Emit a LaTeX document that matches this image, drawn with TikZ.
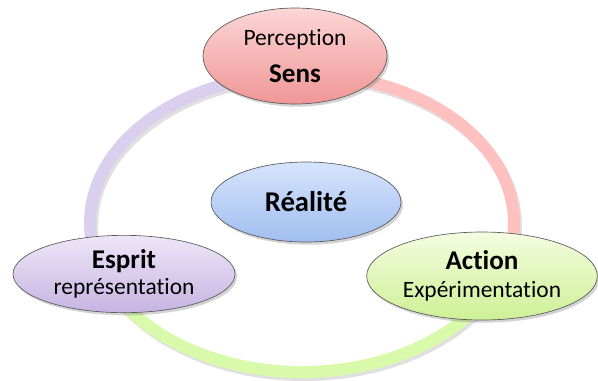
\documentclass[tikz,border=0pt]{standalone}
\usepackage{fontspec}
\setmainfont[Ligatures=NoCommon]{Carlito}
\usetikzlibrary{shapes.geometric,shadows}

\definecolor{senstop}{RGB}{252,214,214}
\definecolor{sensbot}{RGB}{240,150,150}
\definecolor{realtop}{RGB}{214,228,252}
\definecolor{realbot}{RGB}{160,190,240}
\definecolor{espritop}{RGB}{238,230,248}
\definecolor{espribot}{RGB}{198,180,226}
\definecolor{actiontop}{RGB}{244,252,224}
\definecolor{actionbot}{RGB}{206,240,150}
\definecolor{ringlav}{RGB}{218,208,238}
\definecolor{ringpink}{RGB}{255,192,192}
\definecolor{ringgreen}{RGB}{216,250,170}
\definecolor{rimgray}{RGB}{90,90,90}

\newcommand\cycword{\fontsize{17.6}{20}\selectfont}
\newcommand\cyctitle{\fontsize{20.3}{20}\selectfont\bfseries}

\tikzset{every picture/.style={line width=0.75pt}}
\tikzset{
  bubble/.style={ellipse, draw=rimgray, line width=0.5pt, inner sep=0pt, align=center,
    font=\cycword, drop shadow={shadow xshift=1.5pt, shadow yshift=-2pt, opacity=0.35}},
  ringarc/.style={line width=9pt},
  ringshade/.style={line width=9pt, draw=black, draw opacity=0.12},
}

\begin{document}
\begin{tikzpicture}[x=0.75pt,y=0.75pt,yscale=-1,xscale=1]
\useasboundingbox (0,0) rectangle (598,380);

%Ring shadow
\draw [ringshade] (304,226) ellipse [x radius=212, y radius=149];
%Arc: Sens to Esprit
\draw [ringarc, draw=ringlav] (302,223) ++(-90:212 and 149) arc [start angle=-90, end angle=-200, x radius=212, y radius=149];
%Arc: Sens to Action
\draw [ringarc, draw=ringpink] (302,223) ++(-90:212 and 149) arc [start angle=-90, end angle=20, x radius=212, y radius=149];
%Arc: Esprit to Action
\draw [ringarc, draw=ringgreen] (302,223) ++(20:212 and 149) arc [start angle=20, end angle=160, x radius=212, y radius=149];

%Shape: Ellipse Sens
\node [bubble, top color=senstop, bottom color=sensbot, minimum width=138pt, minimum height=72pt] (sens) at (295,56)
  {Perception\\[8pt]{\cyctitle Sens}};
%Shape: Ellipse Realite
\node [bubble, top color=realtop, bottom color=realbot, minimum width=142.5pt, minimum height=60pt] (realite) at (306,202)
  {\fontsize{21.5}{24}\selectfont\bfseries Réalité};
%Shape: Ellipse Esprit
\node [bubble, top color=espritop, bottom color=espribot, minimum width=166.5pt, minimum height=58pt] (esprit) at (124,274)
  {{\cyctitle Esprit}\\[-1pt]représentation};
%Shape: Ellipse Action
\node [bubble, top color=actiontop, bottom color=actionbot, minimum width=173pt, minimum height=66pt] (action) at (482,276)
  {{\cyctitle Action}\\[1pt]Expérimentation};

\end{tikzpicture}
\end{document}
